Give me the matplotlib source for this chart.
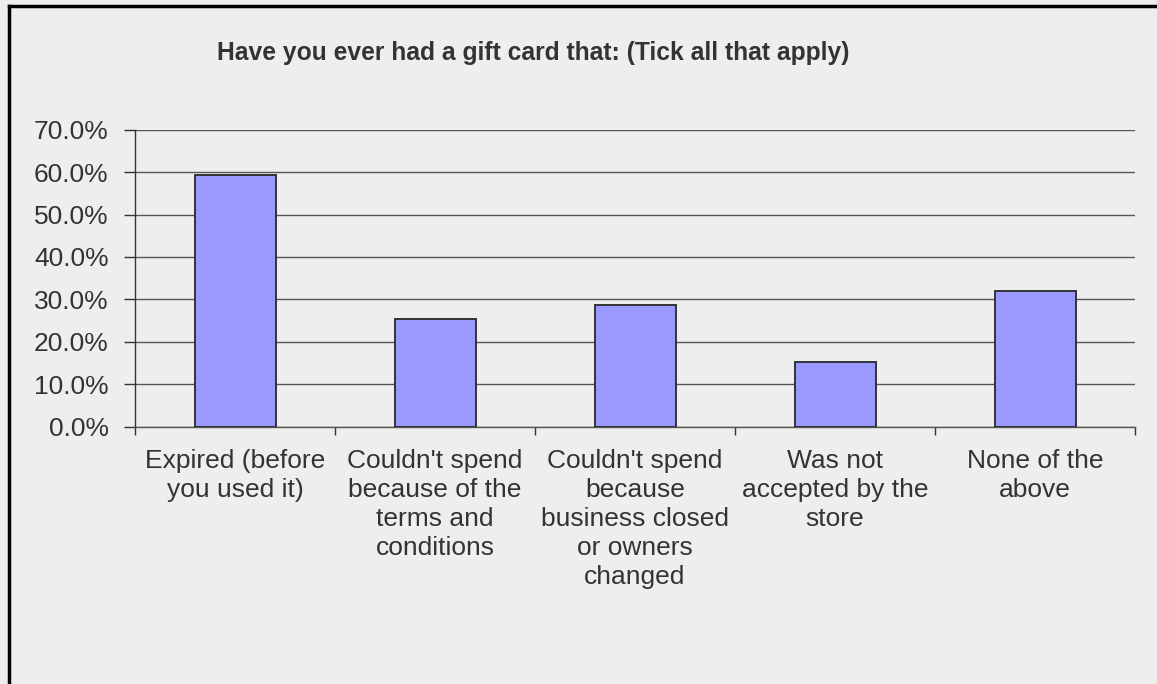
import matplotlib
matplotlib.use('Agg')
import matplotlib.pyplot as plt
from matplotlib.lines import Line2D

# survey answers (percent of respondents)
categories = [
    "Expired (before\nyou used it)",
    "Couldn't spend\nbecause of the\nterms and\nconditions",
    "Couldn't spend\nbecause\nbusiness closed\nor owners\nchanged",
    "Was not\naccepted by the\nstore",
    "None of the\nabove",
]
values = [59.3, 25.3, 28.8, 15.2, 32.0]
yticks = [0, 10, 20, 30, 40, 50, 60, 70]

plt.rcParams['font.family'] = ['Liberation Sans', 'DejaVu Sans']

BG = '#EEEEEE'
TXT = '#333333'

fig = plt.figure(figsize=(11.57, 6.84), dpi=100, facecolor=BG)
ax = fig.add_axes([135 / 1157, 1 - 426.7 / 684, 1000 / 1157, 297 / 684])
ax.set_facecolor(BG)

x = list(range(len(categories)))
ax.bar(x, values, width=0.405, color='#9999FF', edgecolor='#333333',
       linewidth=1.4, zorder=3)

ax.set_xlim(-0.5, len(categories) - 0.5)
ax.set_ylim(0, 70)

# y axis
ax.set_yticks(yticks)
ax.set_yticklabels([f'{v:.1f}%' for v in yticks], fontsize=19, color=TXT)
ax.tick_params(axis='y', length=8, width=1, color='#333333', pad=11)
ax.yaxis.grid(True, color='#555555', linewidth=1.0, zorder=1)
ax.set_axisbelow(True)

# x axis: labels at category centres, tick marks at boundaries
ax.set_xticks(x)
ax.set_xticklabels(categories, fontsize=19, color=TXT, linespacing=1.26)
ax.tick_params(axis='x', which='major', length=0, pad=16)
ax.set_xticks([i + 0.5 for i in range(-1, len(categories))], minor=True)
ax.tick_params(axis='x', which='minor', length=6, width=1, color='#333333')

for side in ['top', 'right']:
    ax.spines[side].set_visible(False)
ax.spines['left'].set_color('#333333')
ax.spines['bottom'].set_color('#555555')
ax.spines['left'].set_linewidth(1.0)
ax.spines['bottom'].set_linewidth(1.0)

fig.text(533 / 1157, 1 - 53 / 684,
         'Have you ever had a gift card that: (Tick all that apply)',
         ha='center', va='center', fontsize=17.7, fontweight='bold', color=TXT)

# outer frame on top and left edges
fig.add_artist(Line2D([8.5 / 1157, 1], [1 - 5.5 / 684, 1 - 5.5 / 684],
                      transform=fig.transFigure, color='black', linewidth=2.5))
fig.add_artist(Line2D([8.5 / 1157, 8.5 / 1157], [0, 1 - 5.5 / 684],
                      transform=fig.transFigure, color='black', linewidth=2.5))

fig.savefig('out.png', dpi=100, facecolor=BG)
